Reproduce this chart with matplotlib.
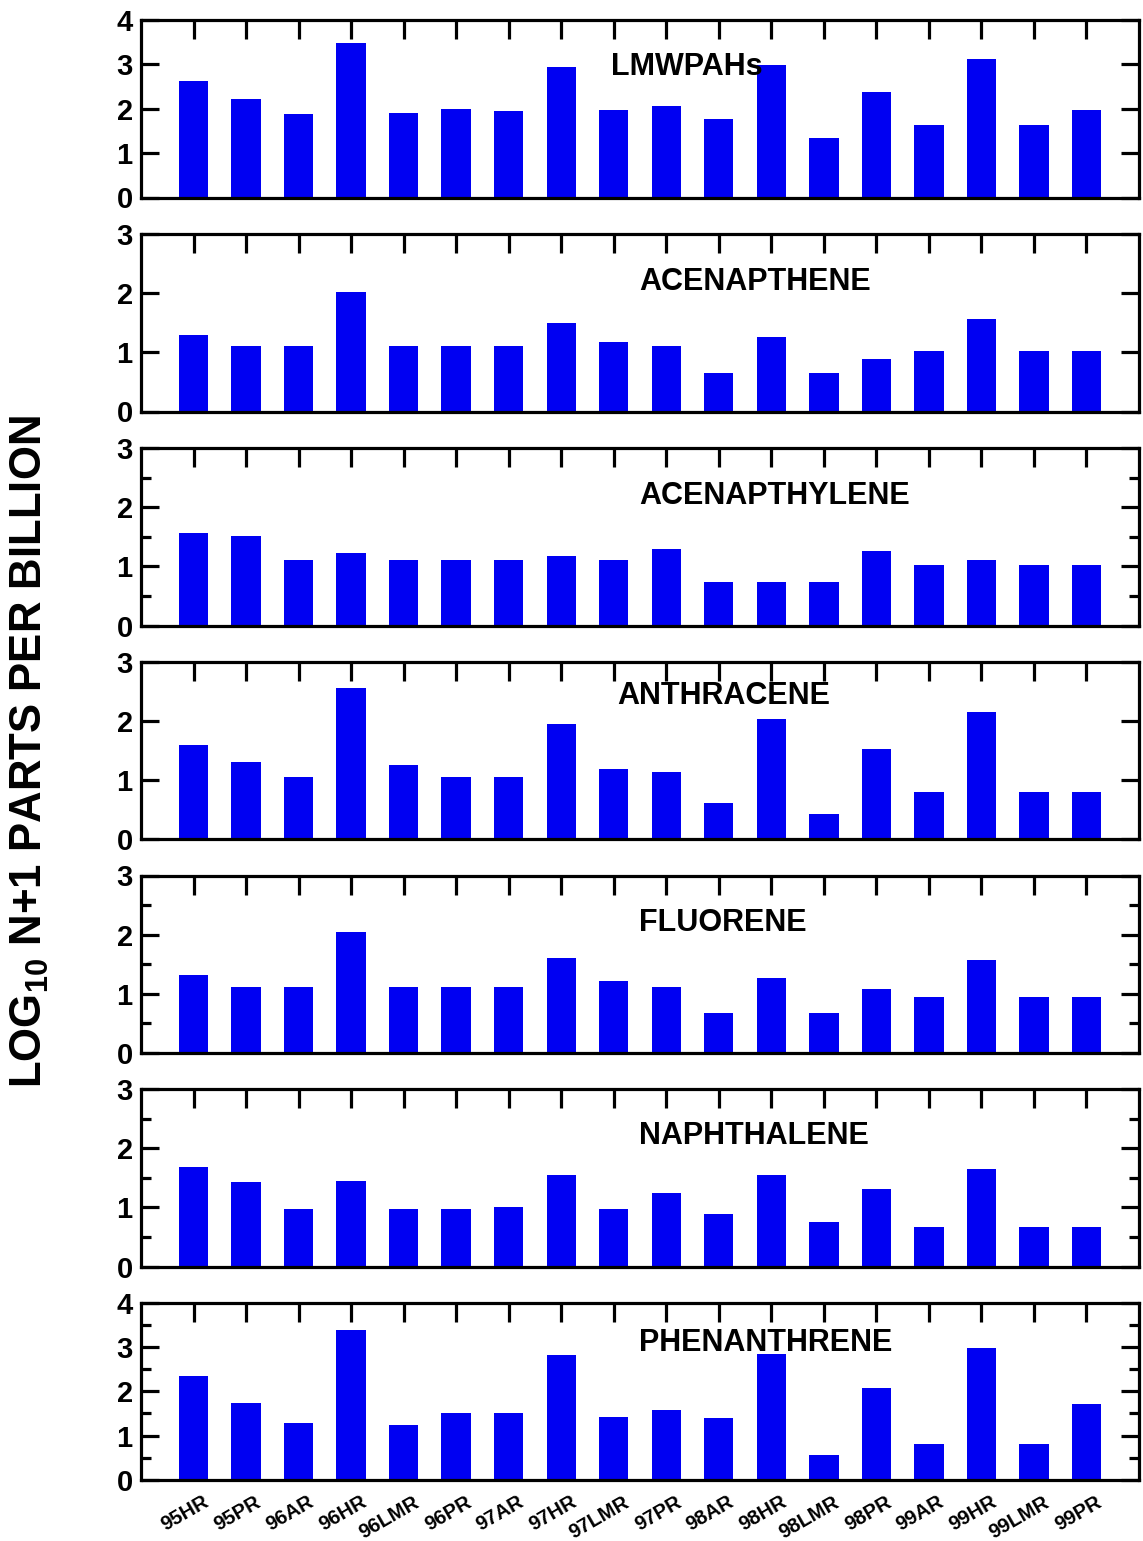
import numpy as np
import matplotlib
matplotlib.use('Agg')
import matplotlib.pyplot as plt
import matplotlib.transforms as mtransforms
from matplotlib.ticker import MultipleLocator

plt.rcParams['font.family'] = ['Liberation Sans', 'DejaVu Sans']
plt.rcParams['font.weight'] = 'bold'
plt.rcParams['mathtext.fontset'] = 'custom'
plt.rcParams['mathtext.rm'] = 'Liberation Sans:bold'
plt.rcParams['mathtext.it'] = 'Liberation Sans:bold'
plt.rcParams['mathtext.bf'] = 'Liberation Sans:bold'

sites = ['95HR', '95PR', '96AR', '96HR', '96LMR', '96PR', '97AR', '97HR', '97LMR',
         '97PR', '98AR', '98HR', '98LMR', '98PR', '99AR', '99HR', '99LMR', '99PR']

lmwpahs = [2.63, 2.21, 1.88, 3.48, 1.91, 2.00, 1.95, 2.95, 1.97,
           2.07, 1.76, 2.98, 1.33, 2.38, 1.63, 3.11, 1.63, 1.98]
acenapthene = [1.30, 1.10, 1.10, 2.02, 1.10, 1.10, 1.10, 1.49, 1.18,
               1.10, 0.65, 1.26, 0.65, 0.88, 1.02, 1.56, 1.02, 1.02]
acenapthylene = [1.56, 1.52, 1.11, 1.23, 1.11, 1.11, 1.11, 1.18, 1.11,
                 1.30, 0.74, 0.74, 0.74, 1.26, 1.02, 1.10, 1.02, 1.02]
anthracene = [1.59, 1.30, 1.06, 2.55, 1.25, 1.06, 1.06, 1.95, 1.18,
              1.13, 0.61, 2.04, 0.43, 1.53, 0.80, 2.15, 0.80, 0.80]
fluorene = [1.31, 1.11, 1.11, 2.05, 1.11, 1.11, 1.11, 1.61, 1.21,
            1.11, 0.67, 1.26, 0.67, 1.09, 0.94, 1.58, 0.94, 0.94]
naphthalene = [1.69, 1.42, 0.97, 1.44, 0.97, 0.97, 1.01, 1.54, 0.97,
               1.25, 0.89, 1.55, 0.76, 1.31, 0.67, 1.65, 0.67, 0.67]
phenanthrene = [2.35, 1.73, 1.29, 3.38, 1.23, 1.50, 1.52, 2.82, 1.41,
                1.58, 1.39, 2.83, 0.56, 2.08, 0.81, 2.98, 0.81, 1.71]

# name, values, ymax, minor ticks, title x, title y (axes fraction)
panels = [
    ('LMWPAHs', lmwpahs, 4, False, 0.471, 0.735),
    ('ACENAPTHENE', acenapthene, 3, False, 0.499, 0.73),
    ('ACENAPTHYLENE', acenapthylene, 3, True, 0.499, 0.73),
    ('ANTHRACENE', anthracene, 3, False, 0.477, 0.81),
    ('FLUORENE', fluorene, 3, True, 0.499, 0.73),
    ('NAPHTHALENE', naphthalene, 3, True, 0.499, 0.735),
    ('PHENANTHRENE', phenanthrene, 4, True, 0.499, 0.77),
]

W, H = 1143, 1541
fig = plt.figure(figsize=(W / 100, H / 100), dpi=100)

x = np.arange(1, len(sites) + 1)
left_px, right_px = 141, 1139
height_px = 177.5
bottoms_px = [197.5, 411.5, 625.5, 839.3, 1053, 1266.5, 1480]

for i, (name, vals, ymax, minor, tx, ty) in enumerate(panels):
    b = bottoms_px[i]
    ax = fig.add_axes([left_px / W, 1 - b / H, (right_px - left_px) / W, height_px / H])
    ax.bar(x, vals, width=0.56, color='#0000f2', edgecolor='none', zorder=1)
    ax.set_xlim(0, len(sites) + 1)
    ax.set_ylim(0, ymax)
    ax.set_yticks(range(0, ymax + 1))
    if minor:
        ax.yaxis.set_minor_locator(MultipleLocator(0.5))
    ax.set_xticks(x)
    for s in ax.spines.values():
        s.set_linewidth(2.3)
    ax.tick_params(axis='y', which='major', direction='in', length=13, width=2.3,
                   left=True, right=True, labelsize=21, pad=6)
    ax.tick_params(axis='y', which='minor', direction='in', length=7, width=2.3,
                   left=True, right=True)
    ax.tick_params(axis='x', which='both', direction='in', length=14, width=2.3,
                   top=True, bottom=False, labelbottom=False)
    for lab in ax.get_yticklabels():
        lab.set_fontweight('bold')
    ax.text(tx, ty, name, transform=ax.transAxes, fontsize=22, fontweight='bold',
            ha='left', va='center')

    if i == len(panels) - 1:
        ax.tick_params(axis='x', labelbottom=True, pad=9)
        ax.set_xticklabels(sites, rotation=30, ha='right', va='top',
                           rotation_mode='anchor', fontsize=14.5, fontweight='bold')
        offset = mtransforms.ScaledTranslation(9 / 100, 0, fig.dpi_scale_trans)
        for lab in ax.get_xticklabels():
            lab.set_transform(lab.get_transform() + offset)

fig.text(30 / W, 1 - 752 / H, r'LOG$_{10}$ N+1 PARTS PER BILLION', rotation=90,
         ha='center', va='center', fontsize=31.5, fontweight='bold')

fig.savefig('out.png', dpi=100)
